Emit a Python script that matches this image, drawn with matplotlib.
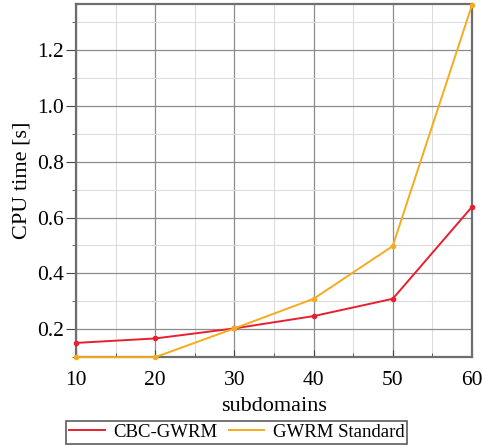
import matplotlib.pyplot as plt
from matplotlib.ticker import MultipleLocator

plt.rcParams['font.family'] = ['Liberation Serif', 'DejaVu Serif']

subdomains = [10, 20, 30, 40, 50, 60]
cbc_gwrm = [0.151, 0.167, 0.203, 0.247, 0.309, 0.638]
gwrm_std = [0.100, 0.100, 0.203, 0.309, 0.498, 1.360]

fig = plt.figure(figsize=(4.82, 4.47), dpi=100)
ax = fig.add_axes([0.158, 0.201, 0.821, 0.790])

# siatka
ax.xaxis.set_major_locator(MultipleLocator(10))
ax.xaxis.set_minor_locator(MultipleLocator(5))
ax.yaxis.set_major_locator(MultipleLocator(0.2))
ax.yaxis.set_minor_locator(MultipleLocator(0.1))
ax.grid(True, which='major', color='#8c8c8c', linewidth=0.9)
ax.grid(True, which='minor', color='#dcdcdc', linewidth=0.8)
ax.set_axisbelow(True)

ax.plot(subdomains, cbc_gwrm, color='#e8202e', linewidth=1.4, marker='o',
        markersize=3, label='CBC-GWRM', clip_on=False, zorder=3)
ax.plot(subdomains, gwrm_std, color='#f5ab1e', linewidth=1.4, marker='o',
        markersize=3, label='GWRM Standard', clip_on=False, zorder=3)

ax.set_xlim(10, 60)
ax.set_ylim(0.1, 1.365)
ax.set_yticks([0.2, 0.4, 0.6, 0.8, 1.0, 1.2])
ax.set_yticklabels(['0.2', '0.4', '0.6', '0.8', '1.0', '1.2'])

for s in ax.spines.values():
    s.set_color('#6e6e6e')
    s.set_linewidth(1.6)

ax.tick_params(axis='y', which='major', direction='out', length=7, color='#444444',
               labelsize=15.5, pad=2)
ax.tick_params(axis='y', which='minor', direction='out', length=3, color='#444444')
ax.tick_params(axis='x', which='major', direction='in', length=5, color='#444444',
               labelsize=15.5, pad=10)
ax.tick_params(axis='x', which='minor', direction='in', length=3, color='#444444')

ax.set_xlabel('subdomains', fontsize=16, labelpad=5)
ax.set_ylabel('CPU time [s]', fontsize=16, labelpad=4)

leg = fig.legend(loc='center', bbox_to_anchor=(0.491, 0.0325), ncol=2, fontsize=13.5,
                 frameon=True, fancybox=False, edgecolor='#333333',
                 handlelength=1.9, columnspacing=0.6, borderpad=0.15,
                 handletextpad=0.45, borderaxespad=0)
leg.get_frame().set_linewidth(1.2)
for line in leg.get_lines():
    line.set_marker('')

fig.savefig('out.png', dpi=100)
